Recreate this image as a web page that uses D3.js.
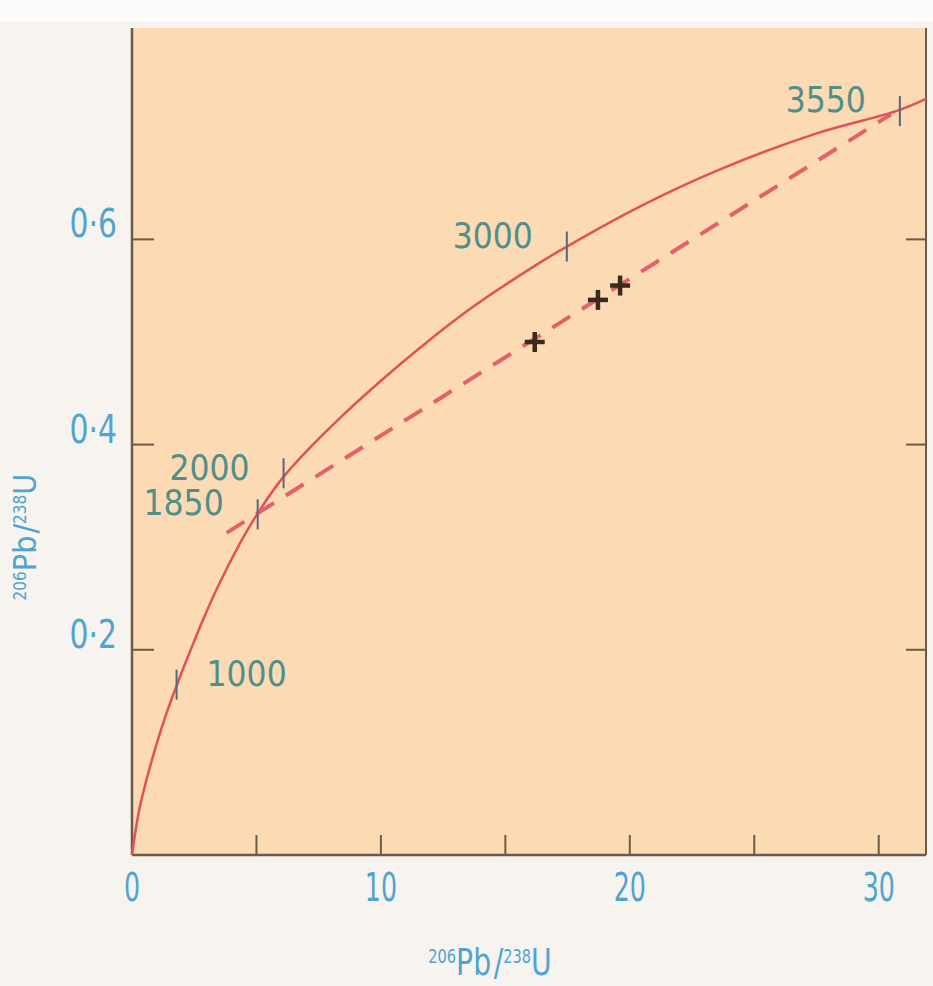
<!DOCTYPE html>
<html>
<head>
<meta charset="utf-8">
<script src="https://cdn.jsdelivr.net/npm/d3@7"></script>
<style>
    body { margin: 0; background: #f7f3ef; }
    svg { display: block; }
</style>
</head>
<body>
<div id="chart"></div>
<script>
// concordia curve (207Pb/235U, 206Pb/238U)
var concordiaX = [0, 0.30, 0.77, 1.19, 1.59, 2.59, 3.40, 4.32, 5.05, 6.10, 8.06, 10.76, 13.45, 16.10, 17.47, 20.40, 23.60, 27.60, 30.70, 31.90];
var concordiaY = [0, 0.045, 0.090, 0.124, 0.152, 0.214, 0.259, 0.303, 0.333, 0.369, 0.419, 0.478, 0.530, 0.573, 0.593, 0.632, 0.668, 0.704, 0.725, 0.737];

// age marks on the curve (Ma)
var ages = ["1000", "1850", "2000", "3000", "3550"];
var ageX = [1.79, 5.05, 6.09, 17.47, 30.85];
var ageY = [0.166, 0.332, 0.372, 0.593, 0.725];

// discordia (dashed)
var discordiaX = [3.8, 30.5];
var discordiaY = [0.314, 0.722];

// measured samples
var sampleX = [16.18, 18.72, 19.61];
var sampleY = [0.500, 0.541, 0.555];

var xTicks = [0, 10, 20, 30];
var xMinorTicks = [5, 10, 15, 20, 25, 30];
var yTicks = [0.2, 0.4, 0.6];
var yTickLabels = ["0·2", "0·4", "0·6"];

var width = 933, height = 986;
var margin = {left: 132, right: 7, top: 28, bottom: 131};

var svg = d3.select("#chart")
    .append("svg")
    .attr("width", width)
    .attr("height", height);

// page background, lighter strip at the top
svg.append("rect")
    .attr("width", width)
    .attr("height", height)
    .attr("fill", "#f7f3ef");
svg.append("rect")
    .attr("width", width)
    .attr("height", 22)
    .attr("fill", "#fdfcfa");

var x = d3.scaleLinear()
    .domain([0, 31.9])
    .range([margin.left, width - margin.right]);
var y = d3.scaleLinear()
    .domain([0, 0.806])
    .range([height - margin.bottom, margin.top]);

var axisColor = "#6c5a4a";
var blue = "#4fa4d2";
var labelColor = "#4f8f8a";
var font = "'DejaVu Sans Condensed', 'DejaVu Sans', sans-serif";

// plot area
svg.append("rect")
    .attr("x", x(0))
    .attr("y", y(0.806))
    .attr("width", x(31.9) - x(0))
    .attr("height", y(0) - y(0.806))
    .attr("fill", "#fcdab3");

// frame: left, bottom, right (no top line)
svg.append("line")
    .attr("x1", x(0)).attr("x2", x(0))
    .attr("y1", y(0.806)).attr("y2", y(0))
    .attr("stroke", axisColor).attr("stroke-width", 2.5);
svg.append("line")
    .attr("x1", x(0)).attr("x2", x(31.9))
    .attr("y1", y(0)).attr("y2", y(0))
    .attr("stroke", axisColor).attr("stroke-width", 2.5);
svg.append("line")
    .attr("x1", x(31.9)).attr("x2", x(31.9))
    .attr("y1", y(0.806)).attr("y2", y(0))
    .attr("stroke", axisColor).attr("stroke-width", 2);

// inner ticks
svg.selectAll(".xtick")
    .data(xMinorTicks)
    .enter()
    .append("line")
    .attr("class", "xtick")
    .attr("x1", d => x(d)).attr("x2", d => x(d))
    .attr("y1", y(0)).attr("y2", y(0) - 20)
    .attr("stroke", axisColor).attr("stroke-width", 2);

svg.selectAll(".ytickL")
    .data(yTicks)
    .enter()
    .append("line")
    .attr("class", "ytickL")
    .attr("x1", x(0)).attr("x2", x(0) + 22)
    .attr("y1", d => y(d)).attr("y2", d => y(d))
    .attr("stroke", axisColor).attr("stroke-width", 2);

svg.selectAll(".ytickR")
    .data(yTicks)
    .enter()
    .append("line")
    .attr("class", "ytickR")
    .attr("x1", x(31.9)).attr("x2", x(31.9) - 20)
    .attr("y1", d => y(d)).attr("y2", d => y(d))
    .attr("stroke", axisColor).attr("stroke-width", 2);

// tick labels (squeezed horizontally, the print uses a narrow face)
svg.selectAll(".xlabel")
    .data(xTicks)
    .enter()
    .append("g")
    .attr("class", "xlabel")
    .attr("transform", d => "translate(" + x(d) + "," + (y(0) + 46) + ") scale(0.72,1)")
    .append("text")
    .attr("text-anchor", "middle")
    .attr("font-family", font)
    .attr("font-size", "39px")
    .attr("fill", blue)
    .text(d => d);

svg.selectAll(".ylabel")
    .data(yTicks)
    .enter()
    .append("g")
    .attr("class", "ylabel")
    .attr("transform", d => "translate(" + (x(0) - 15) + "," + (y(d) - 2) + ") scale(0.85,1)")
    .append("text")
    .attr("text-anchor", "end")
    .attr("font-family", font)
    .attr("font-size", "39px")
    .attr("fill", blue)
    .text((d, i) => yTickLabels[i]);

// axis titles
var xt = svg.append("g")
    .attr("transform", "translate(490,975) scale(0.85,1)")
    .append("text")
    .attr("text-anchor", "middle")
    .attr("font-family", font)
    .attr("font-size", "37px")
    .attr("fill", blue);
xt.append("tspan").attr("font-size", "19px").attr("dy", -12).text("206");
xt.append("tspan").attr("dy", 12).text("Pb");
xt.append("tspan").attr("dx", 3).text("/");
xt.append("tspan").attr("font-size", "19px").attr("dy", -12).text("238");
xt.append("tspan").attr("dy", 12).text("U");

var yt = svg.append("text")
    .attr("transform", "translate(36,537) rotate(-90)")
    .attr("text-anchor", "middle")
    .attr("font-family", font)
    .attr("font-size", "32px")
    .attr("fill", blue);
yt.append("tspan").attr("font-size", "17px").attr("dy", -10).text("206");
yt.append("tspan").attr("dy", 10).text("Pb");
yt.append("tspan").attr("dx", 2).text("/");
yt.append("tspan").attr("font-size", "17px").attr("dy", -10).text("238");
yt.append("tspan").attr("dy", 10).text("U");

// concordia curve
var curvePts = concordiaX.map((d, i) => [d, concordiaY[i]]);
var line = d3.line()
    .x(d => x(d[0]))
    .y(d => y(d[1]))
    .curve(d3.curveCatmullRom.alpha(0.5));

svg.append("path")
    .attr("d", line(curvePts))
    .attr("fill", "none")
    .attr("stroke", "#e3505c")
    .attr("stroke-width", 2.5);

// discordia
var discPts = discordiaX.map((d, i) => [d, discordiaY[i]]);
svg.append("path")
    .attr("d", d3.line().x(d => x(d[0])).y(d => y(d[1]))(discPts))
    .attr("fill", "none")
    .attr("stroke", "#e4606a")
    .attr("stroke-width", 4)
    .attr("stroke-dasharray", "21,14");

// age ticks and labels
svg.selectAll(".agetick")
    .data(ages)
    .enter()
    .append("line")
    .attr("class", "agetick")
    .attr("x1", (d, i) => x(ageX[i])).attr("x2", (d, i) => x(ageX[i]))
    .attr("y1", (d, i) => y(ageY[i]) - 15).attr("y2", (d, i) => y(ageY[i]) + 15)
    .attr("stroke", "#56687a")
    .attr("stroke-width", 2);

svg.selectAll(".agelabel")
    .data(ages)
    .enter()
    .append("text")
    .attr("class", "agelabel")
    .attr("x", (d, i) => d == "1000" ? x(ageX[i]) + 30 : x(ageX[i]) - 34)
    .attr("y", (d, i) => d == "2000" ? y(ageY[i]) + 7 : y(ageY[i]) + 1)
    .attr("text-anchor", d => d == "1000" ? "start" : "end")
    .attr("font-family", font)
    .attr("font-size", "35px")
    .attr("fill", labelColor)
    .text(d => d);

// sample crosses
var samples = sampleX.map((d, i) => [d, sampleY[i]]);
var cross = svg.selectAll(".sample")
    .data(samples)
    .enter()
    .append("g")
    .attr("class", "sample")
    .attr("transform", d => "translate(" + x(d[0]) + "," + y(d[1]) + ")");
cross.append("line")
    .attr("x1", -10).attr("x2", 10)
    .attr("stroke", "#3a2a1c").attr("stroke-width", 4.5);
cross.append("line")
    .attr("y1", -10).attr("y2", 10)
    .attr("stroke", "#3a2a1c").attr("stroke-width", 4.5);
</script>
</body>
</html>
